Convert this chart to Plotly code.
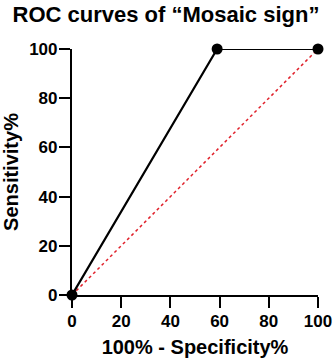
import plotly.graph_objects as go

fpr = [0, 59, 100]
tpr = [0, 100, 100]
ref_x = [0, 100]
ref_y = [0, 100]
tick_vals = [0, 20, 40, 60, 80, 100]
tick_text = ["0", "20", "40", "60", "80", "100"]

FONT = "Liberation Sans, Arial, sans-serif"

fig = go.Figure()
fig.add_trace(go.Scatter(x=ref_x, y=ref_y, mode="lines",
                         line=dict(color="#e0202a", width=1.5, dash="dot"),
                         cliponaxis=False, showlegend=False))
fig.add_trace(go.Scatter(x=fpr, y=tpr, mode="lines+markers",
                         line=dict(color="black", width=2.2),
                         marker=dict(color="black", size=11),
                         cliponaxis=False, showlegend=False))

axis_common = dict(range=[0, 100], tickvals=tick_vals,
                   ticktext=["<b>%s</b>" % t for t in tick_text],
                   showline=True, linecolor="black", linewidth=2.2,
                   ticks="outside", ticklen=11, tickwidth=2.2, tickcolor="black",
                   showgrid=False, zeroline=False, automargin=False,
                   tickfont=dict(family=FONT, size=17, color="black"))

fig.update_layout(
    width=336, height=362,
    margin=dict(l=72, r=18, t=49, b=67),
    paper_bgcolor="white", plot_bgcolor="white",
    title=dict(text="<b>ROC curves of “Mosaic sign”</b>", x=0.494, xanchor="center",
               y=0.96, yanchor="middle",
               font=dict(family=FONT, size=22, color="black")),
    xaxis=dict(**axis_common, ticklabelstandoff=-2,
               title=dict(text="<b>100% - Specificity%</b>", standoff=10,
                          font=dict(family=FONT, size=20, color="black"))),
    yaxis=dict(**axis_common, ticklabelstandoff=-2,
               title=dict(text="<b>Sensitivity%</b>", standoff=6,
                          font=dict(family=FONT, size=20, color="black"))),
)

fig.write_html("out.html", config={"displayModeBar": False},
               post_script="document.body.style.margin='0';document.body.style.overflow='hidden';")
